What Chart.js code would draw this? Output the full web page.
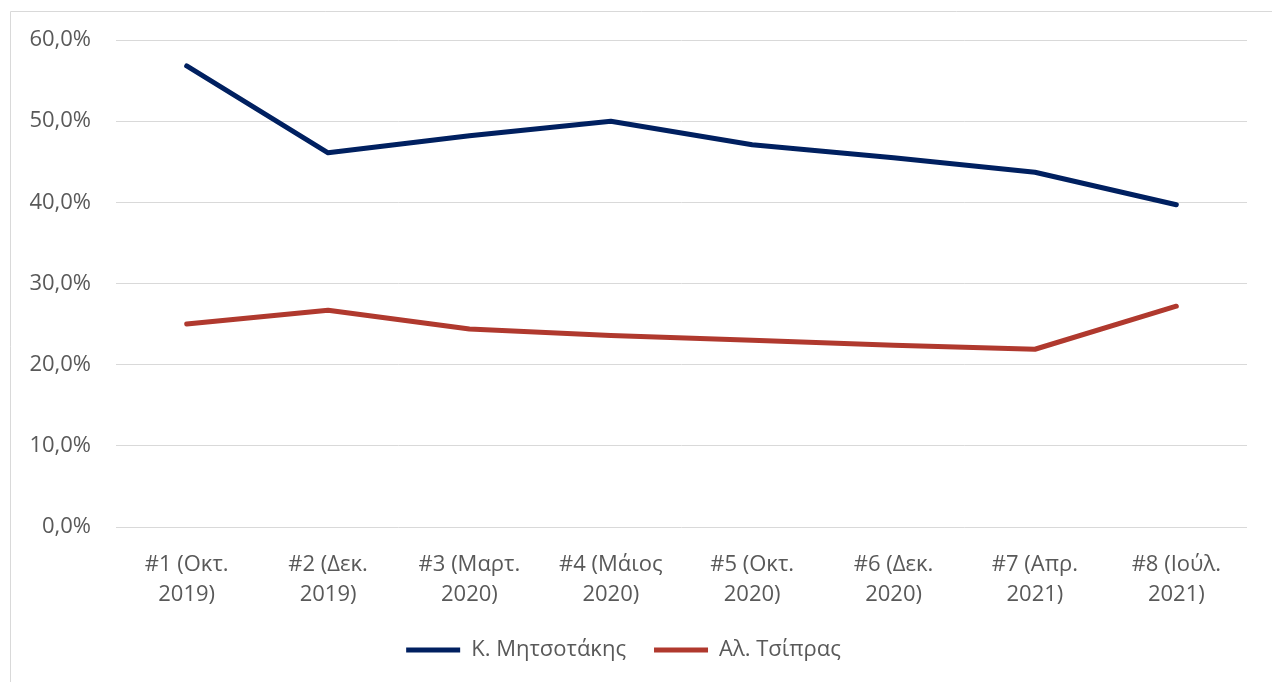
<!DOCTYPE html>
<html>
<head>
<meta charset="utf-8">
<script src="https://cdn.jsdelivr.net/npm/chart.js@4"></script>
<style>
  html, body { margin: 0; padding: 0; background: #fff; }
  #wrap { position: relative; width: 1272px; height: 682px; }
</style>
</head>
<body>
<div id="wrap"><canvas id="c" width="1272" height="682"></canvas></div>
<script>
const categories = [
  ['#1 (Οκτ.', '2019)'],
  ['#2 (Δεκ.', '2019)'],
  ['#3 (Μαρτ.', '2020)'],
  ['#4 (Μάιος', '2020)'],
  ['#5 (Οκτ.', '2020)'],
  ['#6 (Δεκ.', '2020)'],
  ['#7 (Απρ.', '2021)'],
  ['#8 (Ιούλ.', '2021)']
];
const seriesNames = ['Κ. Μητσοτάκης', 'Αλ. Τσίπρας'];
const mitsotakis = [56.8, 46.1, 48.2, 50.0, 47.1, 45.5, 43.7, 39.7];
const tsipras = [25.0, 26.7, 24.4, 23.6, 23.0, 22.4, 21.9, 27.2];
const yMin = 0, yMax = 60, yStep = 10;

const FONT = '"Open Sans", "Noto Sans", sans-serif';
const TXT = '#595959';

const borderPlugin = {
  id: 'outerBorder',
  beforeDraw(chart) {
    const ctx = chart.ctx;
    ctx.save();
    ctx.strokeStyle = '#d9d9d9';
    ctx.lineWidth = 1;
    ctx.beginPath();
    ctx.moveTo(10.5, chart.height);
    ctx.lineTo(10.5, 11.5);
    ctx.lineTo(chart.width, 11.5);
    ctx.stroke();
    ctx.restore();
  }
};

new Chart(document.getElementById('c'), {
  type: 'line',
  data: {
    labels: categories,
    datasets: [
      { label: seriesNames[0], data: mitsotakis, borderColor: '#002060', backgroundColor: '#002060',
        borderWidth: 5, pointRadius: 0, tension: 0, borderCapStyle: 'round', borderJoinStyle: 'round' },
      { label: seriesNames[1], data: tsipras, borderColor: '#B0392E', backgroundColor: '#B0392E',
        borderWidth: 5, pointRadius: 0, tension: 0, borderCapStyle: 'round', borderJoinStyle: 'round' }
    ]
  },
  options: {
    responsive: false,
    animation: false,
    events: [],
    layout: { padding: { top: 40, right: 25, left: 0, bottom: 11 } },
    plugins: {
      tooltip: { enabled: false },
      legend: {
        position: 'bottom',
        labels: {
          usePointStyle: true,
          pointStyle: 'line',
          pointStyleWidth: 54,
          color: TXT,
          font: { family: FONT, size: 22 },
          padding: 28
        }
      }
    },
    scales: {
      x: {
        offset: true,
        grid: { display: false, drawTicks: false },
        border: { display: false },
        ticks: {
          color: TXT, autoSkip: false, maxRotation: 0, minRotation: 0, padding: 23,
          font: { family: FONT, size: 22, lineHeight: 1.36 }
        },
        afterFit(s) { s.height = 84; }
      },
      y: {
        min: yMin, max: yMax,
        grid: { color: '#d9d9d9', lineWidth: 1, drawTicks: false },
        border: { display: false },
        ticks: {
          stepSize: yStep, color: TXT, padding: 25,
          font: { family: FONT, size: 22 },
          callback: v => v.toFixed(1).replace('.', ',') + '%'
        },
        afterFit(s) { s.width = 116; }
      }
    }
  },
  plugins: [borderPlugin]
});
</script>
</body>
</html>
